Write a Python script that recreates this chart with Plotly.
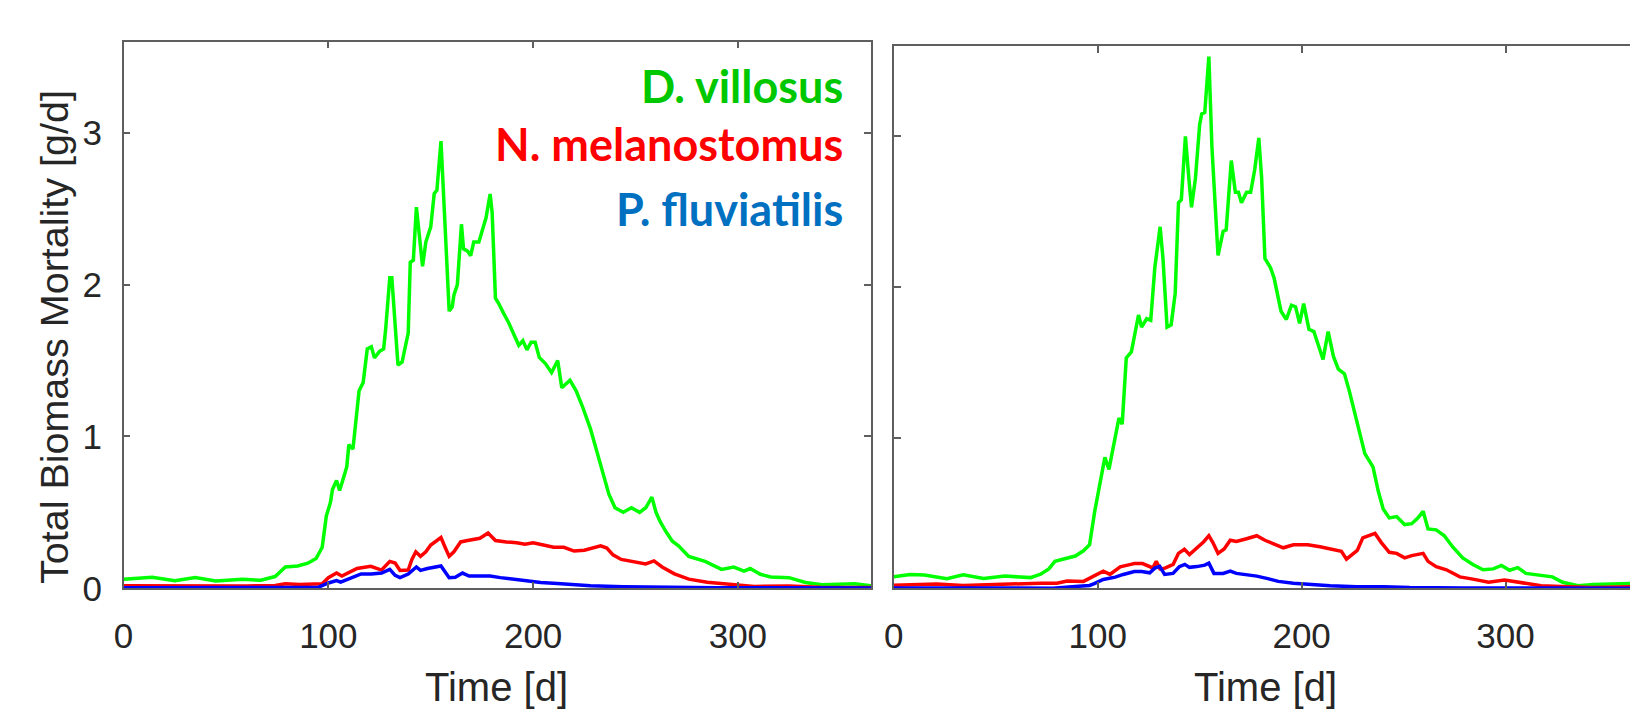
import plotly.graph_objects as go

# ---------------- data (day, value) ----------------
LEFT_GREEN = [(0,0.059),(9,0.065),(14,0.073),(25,0.05),(35,0.07),(45,0.048),(58,0.059),(67,0.053),(74,0.077),
    (79,0.14),(85,0.147),(90,0.165),(94,0.196),(97,0.27),(99,0.476),(101,0.564),(102,0.65),(104,0.71),(105.5,0.643),
    (107,0.71),(109,0.80),(110,0.945),(112,0.916),(113.6,1.12),(115,1.30),(117,1.355),(119,1.576),(121,1.59),
    (122.5,1.517),(125,1.56),(127,1.576),(128,1.71),(130,2.045),(131,2.045),(133,1.65),(134,1.47),(136,1.49),
    (139,1.68),(140,2.147),(141.5,2.16),(143,2.51),(145,2.235),(146,2.12),(147.6,2.28),(150,2.38),(151.7,2.60),
    (153,2.62),(155,2.945),(157,2.41),(159,1.825),(160.5,1.854),(161.3,1.93),(163,2.0),(165,2.397),(166,2.235),
    (168,2.22),(169.5,2.19),(171,2.28),(173.5,2.28),(175,2.35),(177,2.44),(179,2.596),(180,2.47),(181.6,1.91),
    (183,1.88),(185.6,1.81),(188,1.75),(191,1.66),(193,1.6),(195,1.63),(197,1.57),(199,1.62),(201,1.62),
    (203,1.52),(206,1.48),(209,1.42),(212,1.5),(214,1.32),(218,1.37),(221,1.3),(224,1.2),(228,1.05),(231,0.9),
    (234,0.75),(237,0.62),(240,0.53),(244,0.5),(248,0.53),(252,0.5),(255,0.53),(258,0.6),(260,0.5),(262,0.44),
    (265,0.37),(268,0.31),(271,0.28),(276,0.21),(284,0.177),(292,0.124),(298,0.14),(303,0.113),(306,0.13),
    (311,0.092),(316,0.074),(325,0.07),(333,0.038),(341,0.023),(349,0.027),(357,0.03),(365,0.017)]

LEFT_RED = [(0,0.017),(20,0.015),(40,0.012),(60,0.015),(74,0.018),(79,0.03),(86,0.025),(93,0.025),(97,0.03),
    (100,0.07),(104,0.10),(106.6,0.08),(111,0.11),(114,0.13),(120.7,0.145),(126,0.12),(130,0.177),(132.6,0.166),
    (135,0.117),(139,0.12),(140.8,0.19),(142.7,0.24),(145,0.21),(147.6,0.24),(150,0.285),(153,0.314),(155,0.334),
    (157,0.27),(159,0.21),(161.3,0.24),(164.6,0.305),(168,0.314),(171,0.323),(174,0.329),(178,0.364),(181.6,0.314),
    (187,0.305),(192,0.3),(196,0.29),(200,0.3),(205,0.285),(210,0.27),(215,0.27),(220,0.245),(225,0.25),(230,0.27),
    (233,0.28),(236,0.265),(239,0.22),(243,0.19),(250,0.17),(255,0.16),(259,0.18),(263,0.14),(269,0.095),(276,0.06),
    (285,0.04),(295,0.028),(302,0.022),(308,0.012),(325,0.015),(340,0.006),(365,0.005)]

LEFT_BLUE = [(0,0.003),(50,0.002),(90,0.003),(95,0.006),(100,0.035),(104,0.05),(106,0.04),(111,0.07),(116,0.094),
    (121,0.094),(126,0.10),(130,0.124),(132.6,0.085),(135,0.07),(139,0.094),(143,0.14),(145,0.118),(148.4,0.13),
    (155,0.147),(159,0.07),(162,0.073),(165.5,0.1),(168.7,0.08),(174,0.08),(179,0.08),(184,0.07),(195.6,0.049),
    (203.7,0.038),(211.8,0.032),(228,0.017),(244,0.01),(260,0.006),(290,0.003),(365,0.002)]

RIGHT_GREEN = [(0,0.077),(8,0.092),(15,0.089),(26,0.065),(34,0.09),(44,0.066),(54.5,0.082),(67,0.072),(72,0.095),
    (76,0.13),(79,0.18),(85,0.2),(89,0.215),(93,0.25),(96,0.29),(98.5,0.51),(101,0.69),(103.5,0.87),(105.5,0.79),
    (108.6,1.0),(110.4,1.13),(112,1.09),(114,1.53),(116.5,1.57),(118.5,1.72),(120,1.815),(121.5,1.735),(124,1.79),
    (126,1.78),(128,2.13),(130.6,2.40),(132,2.19),(134,1.735),(136,1.75),(138,1.96),(139.6,2.56),(141,2.58),
    (143,3.0),(144.7,2.72),(146,2.53),(147.9,2.72),(150,3.08),(151,3.15),(152.5,3.16),(154.5,3.53),(156,2.93),
    (159,2.21),(161.5,2.37),(163,2.38),(165.5,2.84),(167.5,2.63),(169,2.63),(170.5,2.56),(173,2.63),(175,2.63),
    (177,2.78),(179,2.99),(180.4,2.72),(182,2.19),(184.7,2.13),(186.5,2.06),(189.9,1.84),(192.5,1.785),(195,1.88),
    (197,1.87),(199,1.76),(201,1.89),(203.6,1.72),(206,1.705),(208,1.63),(210.5,1.52),(213,1.705),(215.6,1.54),
    (218,1.455),(221,1.425),(223.4,1.31),(227.3,1.10),(231,0.895),(235,0.807),(237.6,0.645),(240,0.527),
    (243,0.468),(246.6,0.477),(250.5,0.424),(254,0.43),(257,0.468),(259.6,0.512),(262,0.395),(266,0.389),
    (270,0.35),(274,0.277),(279,0.203),(284,0.159),(289,0.124),(294,0.13),(298,0.153),(302,0.121),(306,0.138),
    (310,0.10),(318,0.085),(323,0.077),(328,0.041),(335.6,0.018),(343,0.027),(354,0.032),(365,0.035)]

RIGHT_RED = [(0,0.022),(21,0.03),(34,0.02),(47,0.027),(60,0.03),(72,0.035),(80,0.035),(85,0.05),(93,0.047),
    (96,0.07),(102.7,0.115),(106,0.093),(109,0.126),(111,0.144),(115.7,0.158),(118,0.165),(122,0.165),
    (125.4,0.144),(127,0.136),(128.7,0.18),(130.5,0.13),(133,0.135),(137,0.16),(139.6,0.233),(142.5,0.26),
    (145,0.225),(148.6,0.27),(152,0.31),(154.5,0.35),(156.4,0.306),(159,0.233),(162,0.262),(165,0.32),(168,0.312),
    (173,0.33),(178,0.35),(182,0.32),(186,0.3),(191,0.27),(196,0.29),(203,0.29),(209,0.277),(214,0.262),
    (219.5,0.247),(222,0.194),(224.6,0.224),(227.3,0.253),(230,0.336),(233,0.35),(236,0.365),(239,0.306),
    (243,0.24),(246.6,0.233),(250.5,0.203),(254,0.218),(259.6,0.233),(262,0.18),(266,0.144),(271,0.124),
    (277.6,0.077),(284,0.062),(291.7,0.041),(299.5,0.056),(307,0.041),(317.5,0.018),(330.5,0.012),(343,0.006),
    (365,0.012)]

RIGHT_BLUE = [(0,0.003),(50,0.002),(78,0.002),(90.6,0.015),(96,0.02),(98.3,0.032),(102.7,0.06),(108.6,0.075),
    (112.5,0.093),(118,0.112),(121.5,0.112),(125.5,0.104),(128,0.135),(130.4,0.147),(132.8,0.093),(136.9,0.1),
    (140,0.144),(142.7,0.16),(145,0.14),(148.6,0.145),(152.5,0.155),(154.5,0.168),(157,0.1),(161.5,0.1),
    (165,0.115),(168,0.1),(173,0.091),(178,0.082),(183.4,0.065),(188.6,0.047),(196,0.035),(204,0.027),
    (214,0.018),(227,0.012),(240,0.012),(253,0.006),(279,0.003),(365,0.002)]

X_TICKS = [0, 100, 200, 300]
Y_TICKS = [0, 1, 2, 3]
SPECIES = ["D. villosus", "N. melanostomus", "P. fluviatilis"]
X_TITLE = "Time [d]"
Y_TITLE = "Total Biomass Mortality [g/d]"

# ---------------- styling ----------------
W, H = 1630, 716
LINE_COLORS = ["#00FF00", "#FF0000", "#0000FF"]
TEXT_COLORS = ["#00C800", "#FF0000", "#0070C0"]
AX_COLOR = "#5f5f5f"
TXT = "#262626"
FONT = "Liberation Sans, Arial, sans-serif"

def px_x(p):
    return p / W

def px_y(p):
    return 1 - p / H

fig = go.Figure()
for series, color in zip([LEFT_GREEN, LEFT_RED, LEFT_BLUE], LINE_COLORS):
    fig.add_trace(go.Scatter(x=[d for d, v in series], y=[v for d, v in series], mode="lines",
                             line=dict(color=color, width=3.5), xaxis="x", yaxis="y", showlegend=False,
                             hoverinfo="skip"))
for series, color in zip([RIGHT_GREEN, RIGHT_RED, RIGHT_BLUE], LINE_COLORS):
    fig.add_trace(go.Scatter(x=[d for d, v in series], y=[v for d, v in series], mode="lines",
                             line=dict(color=color, width=3.5), xaxis="x2", yaxis="y2", showlegend=False,
                             hoverinfo="skip"))

common = dict(showgrid=False, zeroline=False, showline=True, linecolor=AX_COLOR, linewidth=1.5,
              ticks="inside", ticklen=7, tickwidth=1.5, tickcolor=AX_COLOR,
              tickfont=dict(family=FONT, size=35, color=TXT))

# left panel: 114.3..866.3 px wide, 42.7..604.3 px tall
L_x0, L_x1, L_top, L_bot = 114.3, 866.3, 42.7, 604.3
# right panel: starts at 889.3 px, 2.0515 px/day, clipped at window edge
R_x0, R_pxday, R_top, R_bot = 889.3, 2.0515, 47.3, 604.5

fig.update_layout(
    width=W, height=H, margin=dict(l=0, r=0, t=0, b=0),
    paper_bgcolor="white", plot_bgcolor="white",
    xaxis=dict(domain=[px_x(L_x0), px_x(L_x1)], range=[0, 365], tickvals=X_TICKS, mirror="ticks",
               anchor="y", ticklabelstandoff=16, **common),
    yaxis=dict(domain=[px_y(L_bot), px_y(L_top)], range=[0, 3.6], tickvals=Y_TICKS, mirror="ticks",
               anchor="x", ticklabelstandoff=13, **common),
    xaxis2=dict(domain=[px_x(R_x0), 1], range=[0, (W - R_x0) / R_pxday], tickvals=X_TICKS, mirror="ticks",
                anchor="y2", ticklabelstandoff=16, **common),
    yaxis2=dict(domain=[px_y(R_bot), px_y(R_top)], range=[0, 3.6], tickvals=Y_TICKS, mirror=False,
                anchor="x2", showticklabels=False, **common),
)

annotations = [
    dict(text=X_TITLE, x=px_x(490), y=px_y(706), xref="paper", yref="paper", xanchor="center",
         yanchor="middle", showarrow=False, font=dict(family=FONT, size=40, color=TXT)),
    dict(text=X_TITLE, x=px_x(1263), y=px_y(706), xref="paper", yref="paper", xanchor="center",
         yanchor="middle", showarrow=False, font=dict(family=FONT, size=40, color=TXT)),
    dict(text=Y_TITLE, x=px_x(45), y=px_y(346.5), xref="paper", yref="paper", xanchor="center",
         yanchor="middle", textangle=-90, showarrow=False, font=dict(family=FONT, size=39.5, color=TXT)),
]
for name, color, yc in zip(SPECIES, TEXT_COLORS, [88, 147.5, 215]):
    annotations.append(dict(text="<b>%s</b>" % name, x=px_x(840), y=px_y(yc), xref="paper", yref="paper",
                            xanchor="right", yanchor="middle", showarrow=False,
                            font=dict(family="Lato, sans-serif", size=45, color=color)))
fig.update_layout(annotations=annotations)

fig.write_html("out.html")
